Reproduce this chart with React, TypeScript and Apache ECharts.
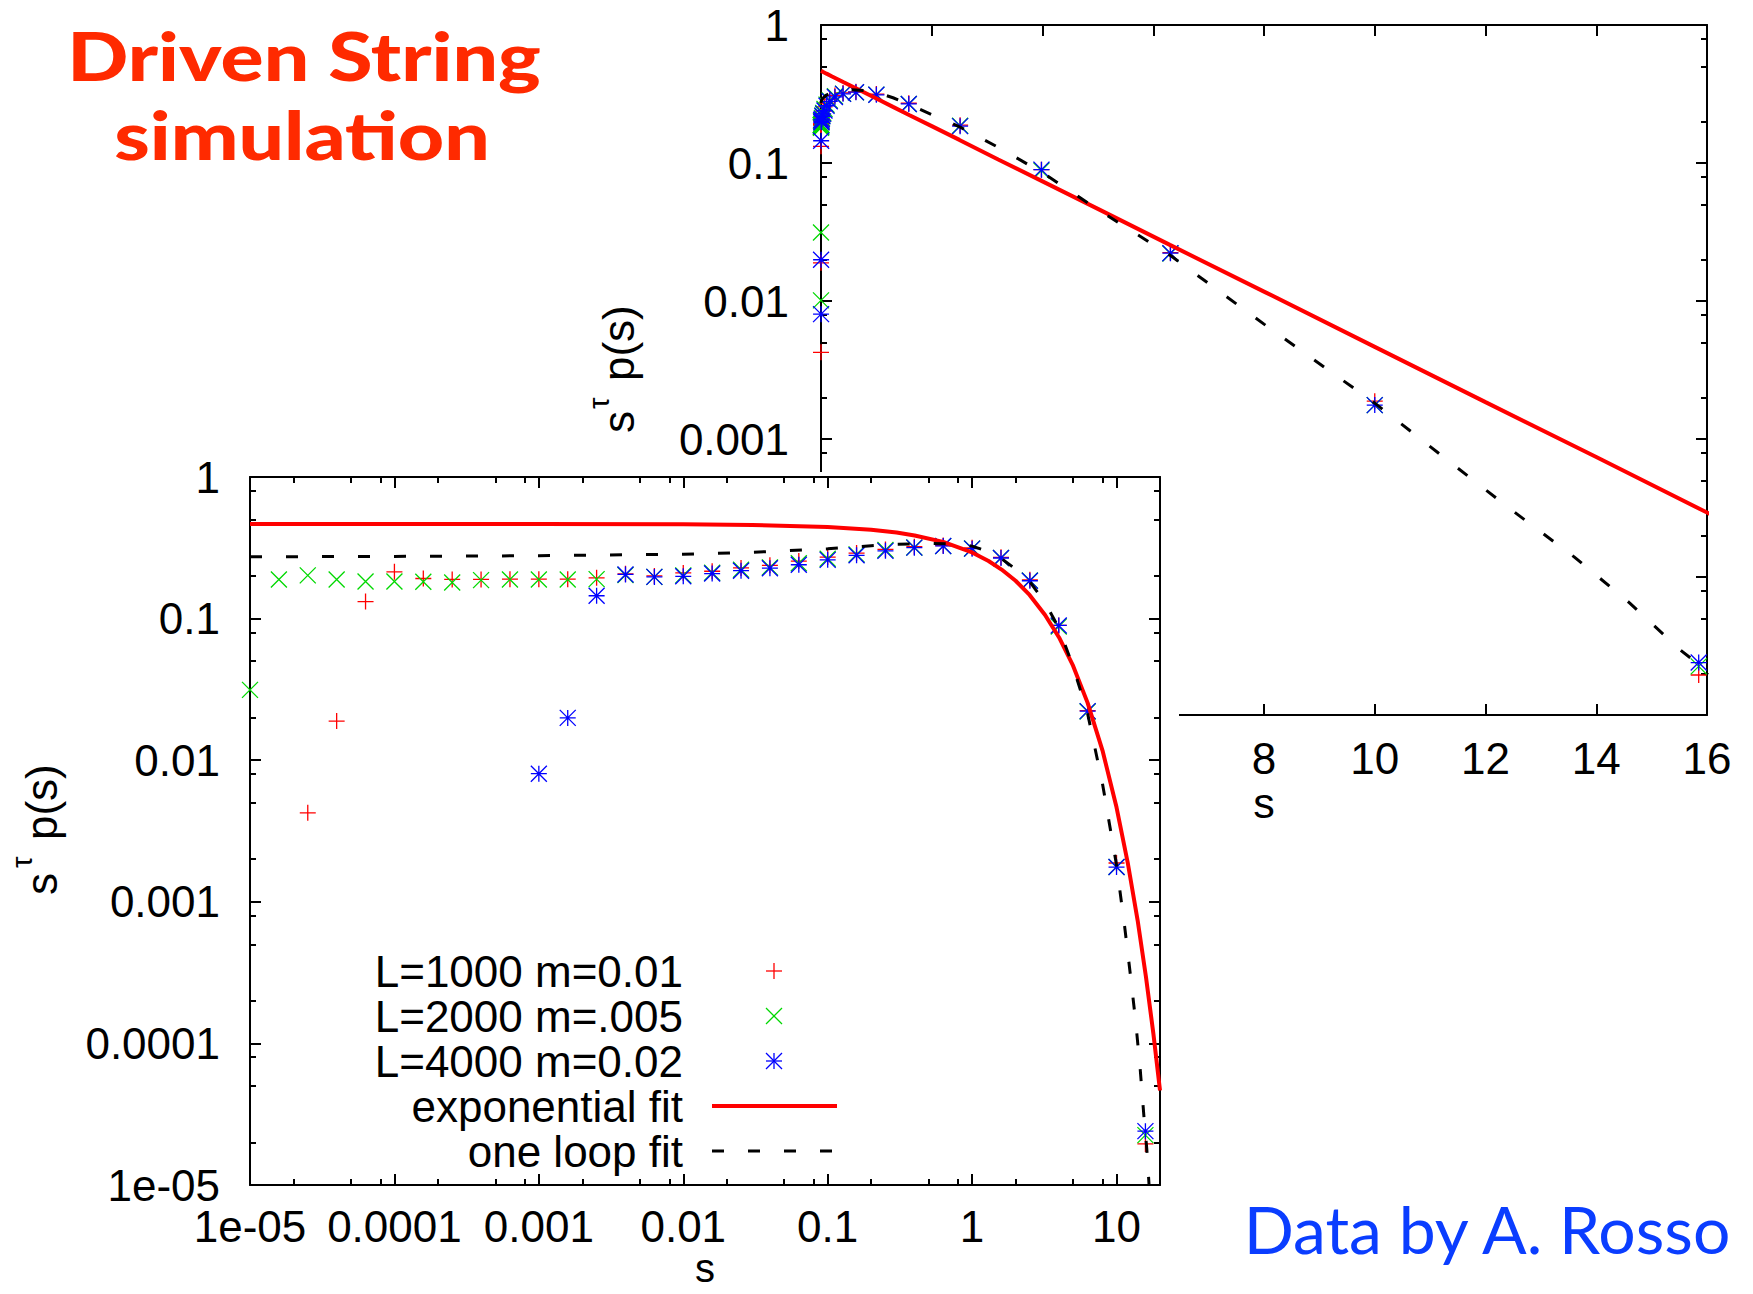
import React, { useEffect, useRef } from "react";
import * as echarts from "echarts";

const W = 1753;
const H = 1294;

const FONT = "'Liberation Sans', Arial, Helvetica, sans-serif";
const TITLE_FONT = "Lato, 'Open Sans', sans-serif";

const RED = "#ff0000";
const GREEN = "#00d800";
const BLUE = "#0000ff";

// ---------------- data ----------------
// cluster size grid s (shared by the three simulations)
const sValues = [
  6.31e-6, 1e-5, 1.585e-5, 2.512e-5, 3.981e-5, 6.31e-5, 1e-4, 1.585e-4, 2.512e-4, 3.981e-4,
  6.31e-4, 1e-3, 1.585e-3, 2.512e-3, 3.981e-3, 6.31e-3, 0.01, 0.01585, 0.02512, 0.03981,
  0.0631, 0.1, 0.1585, 0.2512, 0.3981, 0.631, 1, 1.585, 2.512, 3.981, 6.31, 10, 15.85,
];
// s^tau p(s) for L=1000 m=0.01
const pL1000 = [
  null, null, null, 0.00425, 0.0189, 0.132, 0.214, 0.192, 0.189, 0.189,
  0.19, 0.19, 0.19, 0.194, 0.207, 0.2, 0.21, 0.216, 0.228, 0.238,
  0.255, 0.272, 0.29, 0.308, 0.322, 0.328, 0.316, 0.271, 0.188, 0.0895,
  0.0224, 0.00188, 1.95e-5,
];
// s^tau p(s) for L=2000 m=.005
const pL2000 = [
  0.0101, 0.0314, 0.189, 0.202, 0.189, 0.183, 0.183, 0.182, 0.18, 0.187,
  0.189, 0.189, 0.189, 0.19, 0.203, 0.197, 0.202, 0.211, 0.221, 0.23,
  0.246, 0.265, 0.284, 0.305, 0.318, 0.325, 0.313, 0.268, 0.186, 0.088,
  0.0221, 0.00176, 2.25e-5,
];
// s^tau p(s) for L=4000 m=0.02
const pL4000 = [
  null, null, null, null, null, null, null, null, null, null,
  null, 0.00803, 0.0199, 0.145, 0.205, 0.197, 0.199, 0.208, 0.218, 0.227,
  0.24, 0.26, 0.28, 0.301, 0.317, 0.326, 0.312, 0.268, 0.185, 0.0895,
  0.0222, 0.00176, 2.4e-5,
];
// exponential fit
const expFitS = [1e-5, 1e-3, 0.01, 0.03, 0.1, 0.2, 0.3, 0.4, 0.63, 1, 1.3, 1.6, 2, 2.5, 3.2, 4, 5, 6.3, 8, 10, 12, 14, 16, 18, 20];
const expFitP = [0.465, 0.465, 0.464, 0.459, 0.444, 0.424, 0.405, 0.386, 0.348, 0.293, 0.255, 0.222, 0.185, 0.147, 0.106, 0.0736, 0.0465, 0.0255, 0.0117, 0.00465, 0.00185, 7.4e-4, 2.93e-4, 1.17e-4, 4.65e-5];
// one loop fit
const loopFitS = [1e-5, 1e-4, 1e-3, 0.01, 0.03, 0.1, 0.2, 0.3, 0.5, 0.8, 1, 1.3, 1.6, 2, 2.5, 3.2, 4, 5, 6.3, 8, 10, 11.4, 12.5, 13.6, 14.6, 15.5, 16.2, 16.8];
const loopFitP = [0.273, 0.275, 0.278, 0.285, 0.294, 0.311, 0.327, 0.335, 0.34, 0.335, 0.325, 0.297, 0.265, 0.224, 0.183, 0.13, 0.085, 0.046, 0.0215, 0.0068, 0.00182, 6.6e-4, 3.0e-4, 1.4e-4, 6.5e-5, 3.0e-5, 1.8e-5, 1.0e-5];

const seriesNames = ["L=1000 m=0.01", "L=2000 m=.005", "L=4000 m=0.02", "exponential fit", "one loop fit"];
const logTickLabelsX = ["1e-05", "0.0001", "0.001", "0.01", "0.1", "1", "10"];
const logTickLabelsY = ["1e-05", "0.0001", "0.001", "0.01", "0.1", "1"];
const linTickLabelsX = ["0", "2", "4", "6", "8", "10", "12", "14", "16"];

// ---------------- helpers ----------------
const lg = (v: number) => Math.log10(v);

function toPoints(s: number[], p: (number | null)[], logX: boolean): number[][] {
  const out: number[][] = [];
  for (let i = 0; i < s.length; i++) {
    const v = p[i];
    if (v == null) continue;
    out.push([logX ? lg(s[i]) : s[i], lg(v)]);
  }
  return out;
}

function majorTicks(from: number, to: number, step = 1): number[] {
  const out: number[] = [];
  for (let v = from; v <= to; v += step) out.push(v);
  return out;
}

function minorTicks(fromDecade: number, toDecade: number): number[] {
  const out: number[] = [];
  for (let d = fromDecade; d < toDecade; d++) for (const m of [2, 5, 8]) out.push(d + lg(m));
  return out;
}

const PLUS = "path://M0,5L10,5M5,0L5,10";
const CROSS = "path://M0,0L10,10M0,10L10,0";
const STAR = "path://M0,5L10,5M5,0L5,10M0,0L10,10M0,10L10,0";

function axis(o: any) {
  return {
    type: "value",
    gridIndex: 0,
    position: o.position,
    min: o.min,
    max: o.max,
    z: 4,
    axisLine: { show: !!o.line, onZero: false, lineStyle: { color: "#000", width: 2 } },
    axisTick: { show: true, inside: true, length: o.len, customValues: o.ticks, lineStyle: { color: "#000", width: 2 } },
    axisLabel: o.labels
      ? { show: true, customValues: o.ticks, formatter: o.labels, margin: o.margin, fontSize: 44, fontFamily: FONT, color: "#000" }
      : { show: false },
    splitLine: { show: false },
    minorTick: { show: false },
    axisPointer: { show: false },
  };
}

function dataSeries(logX: boolean) {
  const sc = (name: string, p: (number | null)[], symbol: string, color: string) => ({
    type: "scatter",
    name,
    data: toPoints(sValues, p, logX),
    symbol,
    symbolSize: 16,
    itemStyle: { color: "rgba(0,0,0,0)", borderColor: color, borderWidth: 1.3, opacity: 1 },
    emphasis: { disabled: true },
    silent: true,
    clip: true,
    z: 5,
  });
  return [
    sc(seriesNames[0], pL1000, PLUS, RED),
    sc(seriesNames[1], pL2000, CROSS, GREEN),
    sc(seriesNames[2], pL4000, STAR, BLUE),
    {
      type: "line",
      name: seriesNames[3],
      data: toPoints(expFitS, expFitP, logX),
      symbol: "none",
      showSymbol: false,
      lineStyle: { color: RED, width: 4 },
      emphasis: { disabled: true },
      silent: true,
      clip: true,
      z: 6,
    },
    {
      type: "line",
      name: seriesNames[4],
      data: toPoints(loopFitS, loopFitP, logX),
      symbol: "none",
      showSymbol: false,
      lineStyle: { color: "#000", width: 3, type: [12, 24], cap: "butt" },
      emphasis: { disabled: true },
      silent: true,
      clip: true,
      z: 7,
    },
  ];
}

function plainText(text: string, x: number, y: number, size: number, align = "center", extra: any = {}) {
  return {
    type: "text",
    x,
    y,
    z: 10,
    silent: true,
    style: {
      text,
      fontSize: size,
      fontFamily: FONT,
      fill: "#000",
      align,
      textAlign: align,
      verticalAlign: "middle",
      textVerticalAlign: "middle",
      ...extra,
    },
  };
}

function yLabelGroup(x: number, y: number, tauAt: number, pAt: number) {
  return {
    type: "group",
    x,
    y,
    rotation: Math.PI / 2,
    z: 10,
    children: [
      plainText("s", 0, 0, 44, "left"),
      plainText("τ", tauAt, -19, 29, "left"),
      plainText("p(s)", pAt, 0, 44, "left"),
    ],
  };
}

function marker(kind: number, cx: number, cy: number, color: string, h: number) {
  const ln = (x1: number, y1: number, x2: number, y2: number) => ({
    type: "line",
    z: 10,
    shape: { x1, y1, x2, y2 },
    style: { stroke: color, lineWidth: 1.3 },
  });
  const plus = [ln(cx - h, cy, cx + h, cy), ln(cx, cy - h, cx, cy + h)];
  const cross = [ln(cx - h, cy - h, cx + h, cy + h), ln(cx - h, cy + h, cx + h, cy - h)];
  if (kind === 0) return plus;
  if (kind === 1) return cross;
  return [...plus, ...cross];
}

// ---------------- options ----------------
function backOption(): any {
  const yMaj = majorTicks(-5, 0);
  const yMin = minorTicks(-5, 0);
  const xMaj = majorTicks(0, 16, 2);
  const fmtY = (v: number) => logTickLabelsY[Math.round(v) + 5];
  const fmtX = (v: number) => linTickLabelsX[Math.round(v / 2)];
  const titleStyle = {
    fontSize: 67,
    fontWeight: 900,
    fontFamily: TITLE_FONT,
    fill: "#ff2a00",
    align: "center",
    textAlign: "center",
    verticalAlign: "middle",
    textVerticalAlign: "middle",
  };
  return {
    animation: false,
    backgroundColor: "transparent",
    grid: [{ left: 821, top: 25, width: 886, height: 690, show: false, containLabel: false, outerBoundsMode: "none" }],
    xAxis: [
      axis({ position: "bottom", min: 0, max: 16, ticks: xMaj, len: 11, line: true, labels: fmtX, margin: 21 }),
      axis({ position: "top", min: 0, max: 16, ticks: xMaj, len: 11, line: true }),
    ],
    yAxis: [
      axis({ position: "left", min: -5, max: 0, ticks: yMaj, len: 11, line: true, labels: fmtY, margin: 32 }),
      axis({ position: "left", min: -5, max: 0, ticks: yMin, len: 6, line: false }),
      axis({ position: "right", min: -5, max: 0, ticks: yMaj, len: 11, line: true }),
      axis({ position: "right", min: -5, max: 0, ticks: yMin, len: 6, line: false }),
    ],
    series: dataSeries(false),
    graphic: {
      elements: [
        { type: "text", x: 304, y: 55, scaleX: 1.2, z: 10, style: { ...titleStyle, text: "Driven String" } },
        { type: "text", x: 302, y: 134, scaleX: 1.2, z: 10, style: { ...titleStyle, text: "simulation" } },
        yLabelGroup(618, 433, 24, 52),
        plainText("s", 1264, 803, 43, "center", { lineHeight: 30 }),
      ],
    },
  };
}

function frontOption(): any {
  const LOG_XMAX = lg(20);
  const xMaj = majorTicks(-5, 1);
  const xMin = minorTicks(-5, 1);
  const yMaj = majorTicks(-5, 0);
  const yMin = minorTicks(-5, 0);
  const fmtX = (v: number) => logTickLabelsX[Math.round(v) + 5];
  const fmtY = (v: number) => logTickLabelsY[Math.round(v) + 5];
  const rows = [971, 1016, 1061, 1106, 1151];
  const legendEls: any[] = [];
  seriesNames.forEach((n, i) => legendEls.push(plainText(n, 683, rows[i], 44, "right")));
  legendEls.push(...marker(0, 774, rows[0], RED, 8));
  legendEls.push(...marker(1, 774, rows[1], GREEN, 8));
  legendEls.push(...marker(2, 774, rows[2], BLUE, 8));
  legendEls.push({ type: "line", z: 10, shape: { x1: 712, y1: rows[3], x2: 837, y2: rows[3] }, style: { stroke: RED, lineWidth: 4 } });
  legendEls.push({ type: "line", z: 10, shape: { x1: 712, y1: rows[4], x2: 837, y2: rows[4] }, style: { stroke: "#000", lineWidth: 3, lineDash: [12, 24] } });

  return {
    animation: false,
    backgroundColor: "transparent",
    grid: [{ left: 250, top: 477, width: 910, height: 708, show: false, containLabel: false, outerBoundsMode: "none" }],
    xAxis: [
      axis({ position: "bottom", min: -5, max: LOG_XMAX, ticks: xMaj, len: 11, line: true, labels: fmtX, margin: 19 }),
      axis({ position: "bottom", min: -5, max: LOG_XMAX, ticks: xMin, len: 6, line: false }),
      axis({ position: "top", min: -5, max: LOG_XMAX, ticks: xMaj, len: 11, line: true }),
      axis({ position: "top", min: -5, max: LOG_XMAX, ticks: xMin, len: 6, line: false }),
    ],
    yAxis: [
      axis({ position: "left", min: -5, max: 0, ticks: yMaj, len: 11, line: true, labels: fmtY, margin: 30 }),
      axis({ position: "left", min: -5, max: 0, ticks: yMin, len: 6, line: false }),
      axis({ position: "right", min: -5, max: 0, ticks: yMaj, len: 11, line: true }),
      axis({ position: "right", min: -5, max: 0, ticks: yMin, len: 6, line: false }),
    ],
    series: dataSeries(true),
    graphic: {
      elements: [
        { type: "rect", z: 1, silent: true, shape: { x: 0, y: 472, width: 1179, height: 822 }, style: { fill: "#ffffff" } },
        ...legendEls,
        yLabelGroup(41, 895, 27, 55),
        plainText("s", 705, 1268, 40, "center", { lineHeight: 28 }),
        {
          type: "text",
          x: 1487,
          y: 1228,
          z: 10,
          style: { text: "Data by A. Rosso", fontSize: 66, fontFamily: TITLE_FONT, fill: "#0a3dff", align: "center", textAlign: "center", verticalAlign: "middle", textVerticalAlign: "middle" },
        },
      ],
    },
  };
}

export default function App() {
  const backRef = useRef<HTMLDivElement>(null);
  const frontRef = useRef<HTMLDivElement>(null);
  useEffect(() => {
    const back = echarts.init(backRef.current!, null, { renderer: "svg", width: W, height: H });
    const front = echarts.init(frontRef.current!, null, { renderer: "svg", width: W, height: H });
    back.setOption(backOption());
    front.setOption(frontOption());
    return () => {
      back.dispose();
      front.dispose();
    };
  }, []);
  return (
    <div style={{ position: "fixed", left: 0, top: 0, width: W, height: H, background: "#fff", overflow: "hidden" }}>
      <div ref={backRef} style={{ position: "absolute", left: 0, top: 0, width: W, height: H }} />
      <div ref={frontRef} style={{ position: "absolute", left: 0, top: 0, width: W, height: H }} />
    </div>
  );
}
